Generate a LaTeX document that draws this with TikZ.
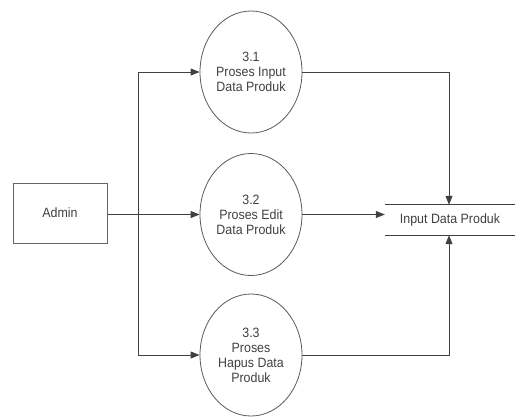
\documentclass[tikz,border=0pt]{standalone}
\usepackage{fontspec}
\setmainfont{Liberation Sans}[FakeStretch=0.92]
\usetikzlibrary{shapes.geometric,arrows.meta}
\begin{document}
\begin{tikzpicture}[x=1pt,y=-1pt,
  line/.style={draw=black!75,line width=0.8pt},
  flow/.style={line,-{Triangle[length=9pt,width=7pt]}},
  proc/.style={ellipse,draw=black!65,line width=0.8pt,minimum width=102pt,minimum height=122pt,inner sep=0pt,
    align=center,font=\fontsize{13.5}{15}\selectfont,text=black!75},
  entity/.style={rectangle,draw=black!60,line width=1pt,minimum width=94pt,minimum height=60pt,
    inner sep=0pt,font=\fontsize{13.5}{15}\selectfont,text=black!75},
  store/.style={rectangle,minimum width=130pt,minimum height=30pt,inner sep=0pt,
    font=\fontsize{13.5}{15}\selectfont,text=black!75}]
\useasboundingbox (0,0) rectangle (518,416);

% external entity and processes
\node[entity] (adm) at (60,213) {Admin};
\node[proc] (p1) at (251,72) {3.1\\Proses Input\\Data Produk};
\node[proc] (p2) at (251,214.5) {3.2\\Proses Edit\\Data Produk};
\node[proc] (p3) at (251,355) {3.3\\Proses\\Hapus Data\\Produk};

% data store: open box with top and bottom lines
\node[store] (ds) at (450,220) {Input Data Produk};
\draw[line] (ds.north west) -- (ds.north east);
\draw[line] (ds.south west) -- (ds.south east);

% branch points of the admin trunk
\coordinate (t1) at (138,72);
\coordinate (t3) at (138,355);
\coordinate (c1) at (449,72);
\coordinate (c3) at (449,355);

% flows from Admin to the processes
\draw[line] (t1) -- (t3);
\draw[flow] (adm.east |- p2) -- (p2.west);
\draw[flow] (t1) -- (p1.west);
\draw[flow] (t3) -- (p3.west);

% flows from the processes to the store
\draw[flow] (p1.east) -- (c1) -- (c1 |- ds.north);
\draw[flow] (p2.east) -- (ds.west |- p2);
\draw[flow] (p3.east) -- (c3) -- (c3 |- ds.south);
\end{tikzpicture}
\end{document}
